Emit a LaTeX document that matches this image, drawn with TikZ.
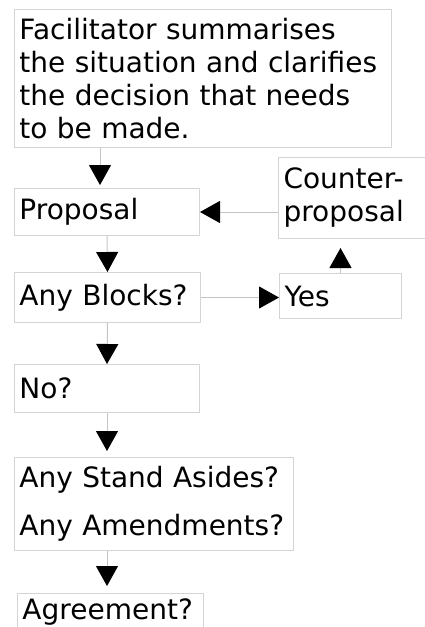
\documentclass[tikz,border=0pt]{standalone}
\usepackage{fontspec}
\setmainfont{DejaVu Sans}
\usetikzlibrary{arrows.meta,positioning}
\definecolor{boxgray}{HTML}{D4D4D4}
\definecolor{linegray}{HTML}{C4C4C4}

\tikzset{
  stepbox/.style={draw=boxgray, line width=1pt, anchor=north west, align=left,
    inner sep=5pt, font=\fontsize{28}{33}\selectfont},
  flow/.style={draw=linegray, line width=1pt, -{Triangle[width=22pt,length=20pt,fill=black,color=black]}}
}

\begin{document}
\begin{tikzpicture}[x=1pt,y=-1pt]
      \useasboundingbox (0,0) rectangle (425,627);
      \clip (0,0) rectangle (425,627);
      \node[stepbox, minimum width=377pt, minimum height=138pt, text width=367pt] (intro) at (14,9)
        {Facilitator summarises\\the situation and clarifies\\the decision that needs\\to be made.};
      \node[stepbox, minimum width=185pt, minimum height=47pt, text width=175pt] (prop) at (14,188) {Proposal};
      \node[stepbox, minimum width=160pt, minimum height=81pt, text width=150pt] (counter) at (278,157) {Counter-\\proposal};
      \node[stepbox, minimum width=186pt, minimum height=50pt, text width=176pt] (blocks) at (14,272) {Any Blocks?};
      \node[stepbox, minimum width=122pt, minimum height=45pt, text width=112pt] (yes) at (279,273) {Yes};
      \node[stepbox, minimum width=185pt, minimum height=48pt, text width=175pt] (no) at (14,364) {No?};
      \node[stepbox, minimum width=279pt, minimum height=93pt, text width=269pt] (stand) at (14,457)
        {Any Stand Asides?\\[15pt]Any Amendments?};
      \node[stepbox, minimum width=186pt, text width=176pt] (agree) at (17,593) {Agreement?};

      \draw[flow, shorten >=3pt] ([xshift=-7pt]intro.south -| prop.south) -- ([xshift=-7pt]prop.north);
      \draw[flow] (counter.west |- prop.east) -- (prop.east);
      \draw[flow] (prop.south) -- (blocks.north);
      \draw[flow] (blocks.east) -- (blocks.east -| yes.west);
      \draw[flow, shorten >=9pt] (yes.north) -- (yes.north |- counter.south);
      \draw[flow] (blocks.south) -- (no.north);
      \draw[flow, shorten >=6pt] (no.south) -- (no.south |- stand.north);
      \draw[flow, shorten >=7pt] (stand.south -| no.south) -- (agree.north -| no.south);
    \end{tikzpicture}
\end{document}
